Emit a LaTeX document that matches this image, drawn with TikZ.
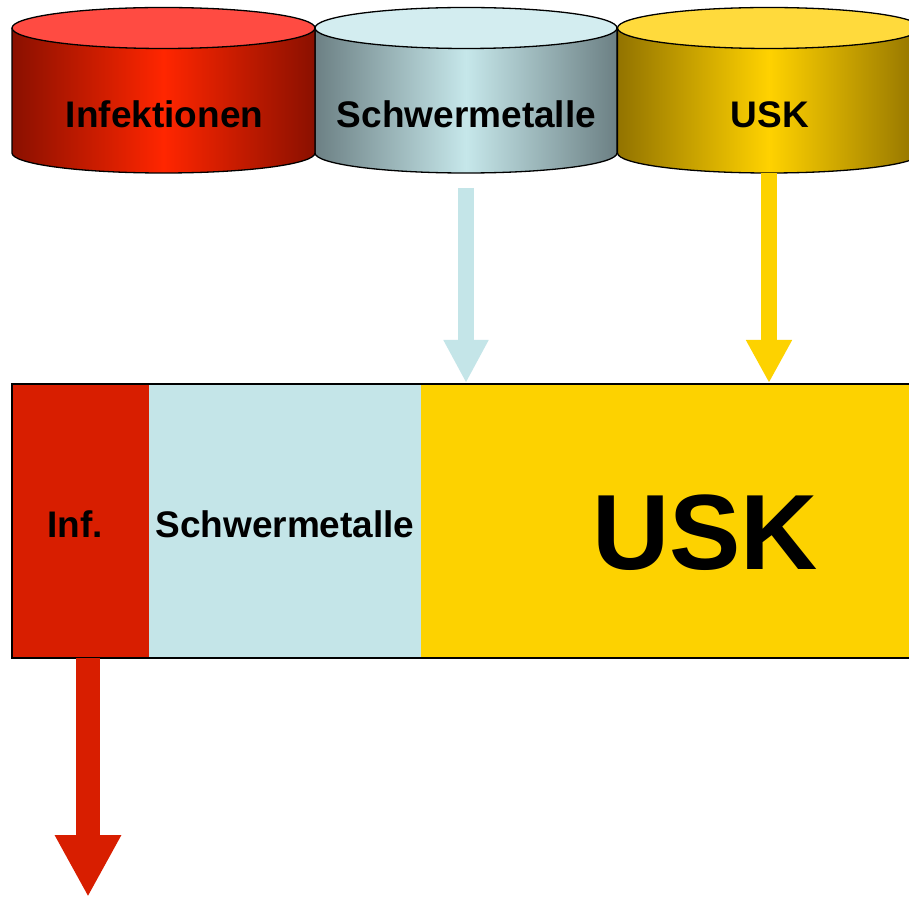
\documentclass[tikz,border=0pt]{standalone}
\usepackage{fontspec}
\setmainfont{Liberation Sans}
\usetikzlibrary{arrows.meta}
\definecolor{barred}{RGB}{216,30,0}
\definecolor{barblue}{RGB}{196,229,232}
\definecolor{baryel}{RGB}{253,210,0}
\definecolor{credge}{RGB}{138,16,0}
\definecolor{crmid}{RGB}{255,38,0}
\definecolor{crtop}{RGB}{255,75,66}
\definecolor{cgedge}{RGB}{108,128,132}
\definecolor{cgmid}{RGB}{198,231,234}
\definecolor{cgtop}{RGB}{211,237,240}
\definecolor{cyedge}{RGB}{146,115,0}
\definecolor{cymid}{RGB}{255,210,0}
\definecolor{cytop}{RGB}{255,218,60}
\tikzset{
  lbl/.style={font=\bfseries\fontsize{37}{40}\selectfont, anchor=base, inner sep=0pt},
  biglbl/.style={font=\bfseries\fontsize{107}{110}\selectfont, anchor=base, inner sep=0pt},
  outline/.style={draw=black, line width=1.3pt},
}
\newcommand{\mycyl}[5]{% cx, rx, edge, mid, top
  \shade[left color=#3, right color=#3, middle color=#4]
    (#1-#2,870) -- (#1-#2,745) arc[start angle=180, end angle=360, x radius=#2pt, y radius=20pt] -- (#1+#2,870) -- cycle;
  \draw[outline] (#1-#2,870) -- (#1-#2,745) arc[start angle=180, end angle=360, x radius=#2pt, y radius=20pt] -- (#1+#2,870);
  \filldraw[fill=#5, outline] (#1,870) ellipse[x radius=#2pt, y radius=20.5pt];
}
\begin{document}
\begin{tikzpicture}[x=1pt,y=1pt]
\useasboundingbox (0,0) rectangle (909,898);
\clip (0,0) rectangle (909,898);
\fill[white] (0,0) rectangle (909,898);
% cylinders (middle one behind)
\mycyl{466}{151}{cgedge}{cgmid}{cgtop}
\mycyl{163.5}{151.5}{credge}{crmid}{crtop}
\mycyl{769}{151.5}{cyedge}{cymid}{cytop}
\node[lbl] (cInf) at (164.5,770) {Infektionen};
\node[lbl] (cSchw) at (466.5,770) {Schwermetalle};
\node[lbl] (cUSK) at (770,770) {USK};
% bar
\fill[barred] (12,240) rectangle (149,514);
\fill[barblue] (149,240) rectangle (421,514);
\fill[baryel] (421,240) rectangle (930,514);
\draw[black, line width=2pt] (12,240) rectangle (930,514);
\node[lbl] (bInf) at (75,361) {Inf.};
\node[lbl] (bSchw) at (285,361) {Schwermetalle};
\node[biglbl] (bUSK) at (705,329) {USK};
% arrows
\coordinate (aBs) at (466,710);
\coordinate (aBe) at (466,515);
\coordinate (aYs) at (769,725);
\coordinate (aYe) at (769,515);
\coordinate (aRs) at (88,240);
\coordinate (aRe) at (88,1);
\draw[barblue, line width=16pt, -{Triangle[width=42pt,length=43pt]}] (aBs) -- (aBe);
\draw[baryel, line width=16pt, -{Triangle[width=43pt,length=43pt]}] (aYs) -- (aYe);
\draw[barred, line width=24pt, -{Triangle[width=62pt,length=62pt]}] (aRs) -- (aRe);
\end{tikzpicture}
\end{document}
